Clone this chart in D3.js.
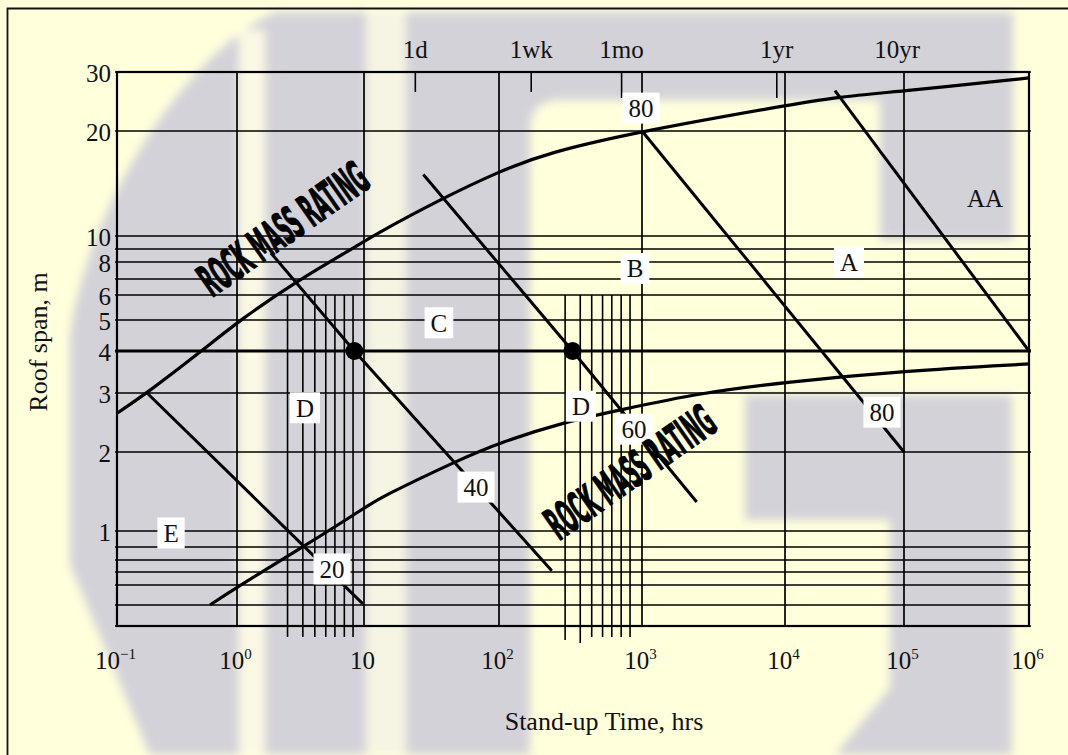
<!DOCTYPE html>
<html>
<head>
<meta charset="utf-8">
<script src="https://cdn.jsdelivr.net/npm/d3@7"></script>
<style>
  html, body { margin: 0; padding: 0; background: #ffffdc; }
  svg { display: block; }
</style>
</head>
<body>
<svg id="chart" width="1068" height="755"></svg>
<script>
// ---------------- data ----------------
// stand-up time axis (hours), one entry per printed decade
const decades = [0.1, 1, 10, 100, 1e3, 1e4, 1e5, 1e6];
const decadeExponents = ["\u22121", "0", "", "2", "3", "4", "5", "6"];

// roof span grid rows (m) and the rows that carry a label
const spanGrid = [0.4, 0.5, 0.6, 0.7, 0.8, 0.9, 1, 2, 3, 4, 5, 6, 7, 8, 9, 10, 20, 30];
const spanLabels = [1, 2, 3, 4, 5, 6, 8, 10, 20, 30];

// calendar marks along the top edge
const topLabels = ["1d", "1wk", "1mo", "1yr", "10yr"];
const topHours = [24, 168, 720, 8760, 87600];

// envelope of the stand-up time zone [hrs, m]
const upperEnvelope = [[0.1, 2.61], [0.178, 3], [0.508, 4], [1.056, 5], [2.97, 6.87], [8.05, 9], [11.5, 10],
  [38.5, 12.85], [100, 15.3], [216, 17.3], [1000, 20], [1e4, 23.8], [2.73e4, 25.3], [1e5, 26.3], [1e6, 28.8]];
const lowerEnvelope = [[0.596, 0.5], [1, 0.589], [3.31, 0.9], [10, 1.22], [13.1, 1.34], [49.7, 1.86],
  [100, 2.13], [289, 2.46], [702, 2.67], [2545, 3.0], [1e4, 3.23], [1e5, 3.49], [1e6, 3.66]];

// rock mass rating contours [hrs, m]
const rmr20 = [[0.178, 3], [9.8, 0.505]];
const rmr40 = [[1.85, 8.68], [8.4, 4], [234, 0.71]];
const rmr60 = [[27.5, 15], [327, 4], [2413, 1.29]];
const rmr80 = [[1000, 20], [1e5, 2]];
const rmr100 = [[2.63e4, 26.4], [1e6, 4]];

// contour value labels [text, hrs, m]
const ratingLabels = [["20", 5.6, 0.724], ["40", 67.6, 1.47], ["60", 879, 2.34], ["80", 985, 23.4], ["80", 6.53e4, 2.63]];
// zone letters [text, hrs, m, boxed]
const zoneLabels = [["AA", 4.45e5, 12.8, false], ["A", 3.45e4, 8.0, true], ["B", 893, 7.6, true],
  ["C", 35.9, 4.9, true], ["D", 3.43, 2.71, true], ["D", 374, 2.74, true], ["E", 0.282, 0.987, true]];

// design span and the two stand-up times read on it
const designSpan = 4;
const designTimes = [8.4, 327];

// hatched time bands (hrs), drawn from the 6 m row downwards
const hatchA = [2.5, 3.3, 4.1, 5.0, 5.9, 7.0, 8.2];
const hatchB = [290, 370, 445, 530, 615, 715, 825];
const hatchTop = 6;

// "ROCK MASS RATING" captions [hrs, m]
const captions = [[2.3, 10.5], [824, 1.68]];

// ---------------- layout ----------------
const W = 1068, H = 755;
// printed grid columns / rows (the decades of the drawing are not evenly spaced)
const decadePx = [117, 237, 364, 499, 642, 785, 904, 1029];
const spanPx = [626, 605, 585, 572, 560, 547, 531, 452, 393, 351, 320, 295, 279, 262, 249, 236, 131, 72];
const topTickLen = [20, 20, 26, 26];

const serif = "'Liberation Serif','Times New Roman',serif";
const fs = 25;

const x = d3.scaleLog().domain(decades).range(decadePx);
const y = d3.scaleLog().domain(spanGrid).range(spanPx);
const xL = x(decades[0]), xR = x(decades[decades.length - 1]);
const yB = y(spanGrid[0]), yT = y(spanGrid[spanGrid.length - 1]);

const svg = d3.select("#chart");

// ---------------- background ----------------
svg.append("rect").attr("width", W).attr("height", H).attr("fill", "#ffffdc");
const defs = svg.append("defs");
defs.append("filter").attr("id", "soft").attr("x", "-10%").attr("y", "-10%").attr("width", "120%").attr("height", "120%")
  .append("feGaussianBlur").attr("stdDeviation", 5);

const wm = svg.append("g").attr("filter", "url(#soft)");
wm.append("path")
  .attr("d", "M70,565 L70,335 C85,220 175,60 275,12 L1013,12 L1013,240 L880,240 L880,100 L560,100 Q530,100 530,130 L530,755 L150,755 Z")
  .attr("fill", "#d4d2d9");
wm.append("path")
  .attr("d", "M745,395 L1012,395 L1012,755 L835,755 L890,688 L890,520 L745,520 Z")
  .attr("fill", "#d4d2d9");
wm.append("rect").attr("x", 239).attr("y", 30).attr("width", 26).attr("height", 725).attr("fill", "#fbf9e4");
wm.append("rect").attr("x", 366).attr("y", 12).attr("width", 40).attr("height", 743).attr("fill", "#f6f4e2");

// outer frame (left and top edges)
svg.append("path").attr("d", "M7.5,755 L7.5,8.5 L1068,8.5").attr("fill", "none").attr("stroke", "#111").attr("stroke-width", 1.8);

// ---------------- grid ----------------
const grid = svg.append("g").attr("stroke", "#000").attr("fill", "none");
grid.selectAll("line.row").data(spanGrid).join("line")
  .attr("class", "row")
  .attr("x1", xL - 2).attr("x2", xR + 2)
  .attr("y1", d => y(d)).attr("y2", d => y(d))
  .attr("stroke-width", d => d === designSpan ? 3 : 1.6);
grid.selectAll("line.col").data(decades.slice(1, -1)).join("line")
  .attr("class", "col")
  .attr("x1", d => x(d)).attr("x2", d => x(d))
  .attr("y1", yT).attr("y2", yB)
  .attr("stroke-width", 1.7);
grid.append("rect").attr("x", xL).attr("y", yT).attr("width", xR - xL).attr("height", yB - yT)
  .attr("stroke-width", 2.2);

// hatched bands
const hatchG = svg.append("g").attr("stroke", "#000").attr("stroke-width", 1.6);
[hatchA, hatchB].forEach((band, bi) => {
  hatchG.selectAll(null).data(band).join("line")
    .attr("x1", d => x(d)).attr("x2", d => x(d))
    .attr("y1", y(hatchTop))
    .attr("y2", (d, i) => yB + (bi === 1 && i < 2 ? 14 + 3 * i : 11));
});

// top calendar ticks
const calendarG = svg.append("g");
calendarG.selectAll("line").data(topHours.slice(0, 4)).join("line")
  .attr("x1", d => x(d)).attr("x2", d => x(d))
  .attr("y1", yT).attr("y2", (d, i) => yT + topTickLen[i])
  .attr("stroke", "#000").attr("stroke-width", 1.6);
calendarG.selectAll("text").data(topLabels).join("text")
  .attr("x", (d, i) => x(topHours[i])).attr("y", 58)
  .attr("text-anchor", "middle")
  .attr("font-family", serif).attr("font-size", fs).attr("fill", "#111")
  .text(d => d);

// ---------------- envelopes and contours ----------------
const curve = d3.line().x(d => x(d[0])).y(d => y(d[1])).curve(d3.curveBasis);
const straight = d3.line().x(d => x(d[0])).y(d => y(d[1]));
const marks = svg.append("g").attr("fill", "none").attr("stroke", "#000").attr("stroke-linecap", "butt");
marks.selectAll("path.env").data([upperEnvelope, lowerEnvelope]).join("path")
  .attr("class", "env").attr("d", curve).attr("stroke-width", 3.2);
marks.selectAll("path.rmr").data([rmr20, rmr40, rmr60, rmr80, rmr100]).join("path")
  .attr("class", "rmr").attr("d", straight).attr("stroke-width", 3);

svg.append("g").selectAll("circle").data(designTimes).join("circle")
  .attr("cx", d => x(d)).attr("cy", y(designSpan)).attr("r", 9).attr("fill", "#000");

// ---------------- labels ----------------
function boxedLabel(g, text, cx, cy, boxed) {
  const t = g.append("text")
    .attr("x", cx).attr("y", cy).attr("dy", "0.35em")
    .attr("text-anchor", "middle")
    .attr("font-family", serif).attr("font-size", fs).attr("fill", "#111")
    .text(text);
  if (boxed) {
    const bb = t.node().getBBox();
    g.insert("rect", () => t.node())
      .attr("x", bb.x - 6).attr("y", cy - 15.5)
      .attr("width", bb.width + 12).attr("height", 31)
      .attr("fill", "#fff");
  }
}
const lab = svg.append("g");
ratingLabels.forEach(d => boxedLabel(lab, d[0], x(d[1]), y(d[2]), true));
zoneLabels.forEach(d => boxedLabel(lab, d[0], x(d[1]), y(d[2]), d[3]));

// rotated captions
svg.append("g").selectAll("text").data(captions).join("text")
  .attr("transform", d => `translate(${x(d[0])},${y(d[1])}) rotate(-35)`)
  .attr("text-anchor", "middle").attr("dy", "0.36em")
  .attr("font-family", "'DejaVu Sans Condensed','DejaVu Sans',sans-serif")
  .attr("font-weight", "bold").attr("font-size", 45)
  .attr("textLength", 196).attr("lengthAdjust", "spacingAndGlyphs")
  .attr("fill", "#000").attr("stroke", "#000").attr("stroke-width", 1.2)
  .text("ROCK MASS RATING");

// ---------------- axes ----------------
const yAxis = svg.append("g").attr("transform", `translate(${xL},0)`)
  .call(d3.axisLeft(y).tickValues(spanLabels).tickSize(0).tickPadding(6).tickFormat(d3.format("d")));
yAxis.select(".domain").remove();
yAxis.selectAll("text").attr("font-family", serif).attr("font-size", fs).attr("fill", "#111").attr("dy", "0.36em");

const xAxis = svg.append("g").attr("transform", `translate(0,${yB})`)
  .call(d3.axisBottom(x).tickValues(decades).tickSize(0).tickFormat(""));
xAxis.select(".domain").remove();
xAxis.selectAll(".tick text").each(function (d, i) {
  const t = d3.select(this)
    .attr("x", -2).attr("y", 669 - yB).attr("dy", 0)
    .attr("text-anchor", "middle")
    .attr("font-family", serif).attr("font-size", fs).attr("fill", "#111");
  t.append("tspan").text("10");
  if (decadeExponents[i]) t.append("tspan").attr("font-size", 15).attr("dy", -10).text(decadeExponents[i]);
});

svg.append("text")
  .attr("x", (xL + xR) / 2 + 31).attr("y", 730)
  .attr("text-anchor", "middle")
  .attr("font-family", serif).attr("font-size", 26).attr("fill", "#111")
  .text("Stand-up Time, hrs");
svg.append("text")
  .attr("transform", `translate(47,${(yT + yB) / 2 - 7}) rotate(-90)`)
  .attr("text-anchor", "middle")
  .attr("font-family", serif).attr("font-size", 26).attr("fill", "#111")
  .text("Roof span, m");
</script>
</body>
</html>
